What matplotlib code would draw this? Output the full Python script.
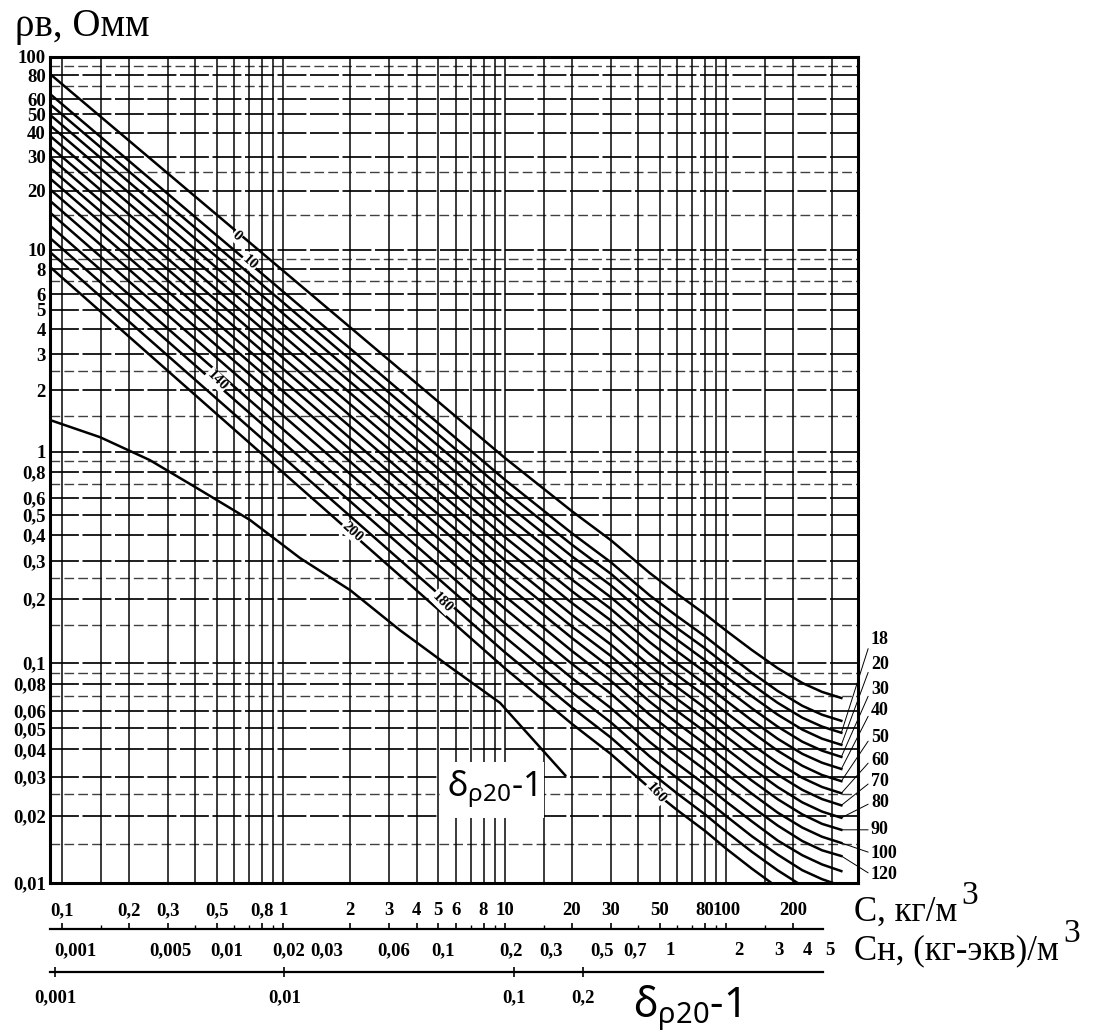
import numpy as np
import matplotlib
matplotlib.use("Agg")
import matplotlib.pyplot as plt

plt.rcParams["mathtext.fontset"] = "custom"
plt.rcParams["mathtext.rm"] = "Noto Sans"
plt.rcParams["mathtext.it"] = "Noto Sans"

SERIF = "Liberation Serif"

# concentration C, kg/m3, where the curves were read
c_pts = [0.0883, 10, 20, 30, 45, 60, 80, 100, 130, 170, 220, 270, 330]
# water resistivity, Ohm*m, one row per temperature curve (top to bottom)
rho_t0 = [81.3, 0.935, 0.520, 0.378, 0.264, 0.210, 0.169, 0.141, 0.115, 0.0947, 0.0808, 0.0735, 0.0689]
rho_t10 = [63.8, 0.734, 0.408, 0.297, 0.207, 0.165, 0.133, 0.111, 0.0903, 0.0743, 0.0634, 0.0577, 0.0541]
rho_t18 = [56.3, 0.647, 0.360, 0.262, 0.183, 0.145, 0.117, 0.0976, 0.0796, 0.0655, 0.0559, 0.0509, 0.0477]
rho_t20 = [49.6, 0.570, 0.317, 0.231, 0.161, 0.128, 0.103, 0.0860, 0.0702, 0.0578, 0.0493, 0.0448, 0.0420]
rho_t30 = [43.7, 0.502, 0.279, 0.203, 0.142, 0.113, 0.0908, 0.0757, 0.0618, 0.0509, 0.0434, 0.0395, 0.0370]
rho_t40 = [38.5, 0.442, 0.246, 0.179, 0.125, 0.0993, 0.0799, 0.0667, 0.0544, 0.0448, 0.0382, 0.0348, 0.0326]
rho_t50 = [33.9, 0.390, 0.217, 0.158, 0.110, 0.0876, 0.0705, 0.0588, 0.0480, 0.0395, 0.0337, 0.0306, 0.0287]
rho_t60 = [29.8, 0.343, 0.191, 0.139, 0.0969, 0.0771, 0.0620, 0.0517, 0.0422, 0.0348, 0.0297, 0.0270, 0.0253]
rho_t70 = [26.3, 0.303, 0.168, 0.122, 0.0855, 0.0680, 0.0548, 0.0457, 0.0373, 0.0307, 0.0262, 0.0238, 0.0223]
rho_t80 = [23.2, 0.266, 0.148, 0.108, 0.0752, 0.0599, 0.0482, 0.0402, 0.0328, 0.0270, 0.0230, 0.0209, 0.0196]
rho_t90 = [20.4, 0.235, 0.131, 0.0949, 0.0663, 0.0527, 0.0424, 0.0354, 0.0289, 0.0238, 0.0203, 0.0184, 0.0173]
rho_t100 = [17.8, 0.205, 0.114, 0.0828, 0.0578, 0.0460, 0.0370, 0.0309, 0.0252, 0.0207, 0.0177, 0.0161, 0.0151]
rho_t120 = [15.5, 0.179, 0.0993, 0.0722, 0.0504, 0.0401, 0.0323, 0.0269, 0.0220, 0.0181, 0.0154, 0.0140, 0.0132]
rho_t140 = [13.3, 0.153, 0.0853, 0.0620, 0.0433, 0.0344, 0.0277, 0.0231, 0.0189, 0.0155, 0.0133, 0.0121, 0.0113]
rho_t160 = [11.5, 0.132, 0.0733, 0.0533, 0.0372, 0.0296, 0.0238, 0.0199, 0.0162, 0.0134, 0.0114, 0.0104, 0.00971]
rho_t180 = [9.76, 0.112, 0.0624, 0.0454, 0.0317, 0.0252, 0.0203, 0.0169, 0.0138, 0.0114, 0.00970, 0.00882, 0.00827]
rho_t200 = [8.21, 0.0944, 0.0525, 0.0382, 0.0267, 0.0212, 0.0171, 0.0142, 0.0116, 0.00956, 0.00816, 0.00742, 0.00696]
curves = [rho_t0, rho_t10, rho_t18, rho_t20, rho_t30, rho_t40, rho_t50, rho_t60,
          rho_t70, rho_t80, rho_t90, rho_t100, rho_t120, rho_t140, rho_t160,
          rho_t180, rho_t200]

# separate lower curve (delta rho20 - 1)
c_delta = [0.0883, 0.1485, 0.249, 0.42, 0.706, 1.19, 2.0, 3.36, 5.65, 9.5, 18.7]
rho_delta = [1.43, 1.18, 0.914, 0.656, 0.471, 0.310, 0.219, 0.142, 0.0958, 0.0654, 0.0305]

# labels written along the lines
inline_txt = ["0", "10", "140", "200", "180", "160"]
inline_c = [0.617, 0.706, 0.501, 2.04, 5.2, 48]
inline_rho = [11.8, 8.69, 2.24, 0.413, 0.192, 0.0254]
inline_rot = [-42, -42, -45, -42, -45, -48]

# temperature labels at right end, and the curve each one points to
right_txt = ["18", "20", "30", "40", "50", "60", "70", "80", "90", "100", "120"]
right_rho = [0.128, 0.098, 0.075, 0.0601, 0.0456, 0.0358, 0.0285, 0.0229, 0.0173, 0.0136, 0.0109]
right_curve = [2, 3, 4, 5, 6, 7, 8, 9, 10, 11, 12]

# y axis
y_ticks = [100, 80, 60, 50, 40, 30, 20, 10, 8, 6, 5, 4, 3, 2, 1, 0.8, 0.6, 0.5, 0.4,
           0.3, 0.2, 0.1, 0.08, 0.06, 0.05, 0.04, 0.03, 0.02, 0.01]
y_labels = ["100", "80", "60", "50", "40", "30", "20", "10", "8", "6", "5", "4", "3", "2",
            "1", "0,8", "0,6", "0,5", "0,4", "0,3", "0,2", "0,1", "0,08", "0,06", "0,05",
            "0,04", "0,03", "0,02", "0,01"]
y_minor = [90, 70, 25, 15, 9, 7, 2.5, 1.5, 0.9, 0.7, 0.25, 0.15, 0.09, 0.07, 0.025, 0.015]

# bottom scales
c_ticks = [0.1, 0.2, 0.3, 0.5, 0.8, 1, 2, 3, 4, 5, 6, 8, 10, 20, 30, 50, 80, 100, 200]
c_labels = ["0,1", "0,2", "0,3", "0,5", "0,8", "1", "2", "3", "4", "5", "6", "8", "10",
            "20", "30", "50", "80", "100", "200"]
c_minor = [0.15, 0.4, 0.6, 0.7, 0.9, 7, 9, 15, 40, 60, 70, 90, 150, 300]
cn_ticks = [0.001, 0.005, 0.01, 0.02, 0.03, 0.06, 0.1, 0.2, 0.3, 0.5, 0.7, 1, 2, 3, 4, 5]
cn_labels = ["0,001", "0,005", "0,01", "0,02", "0,03", "0,06", "0,1", "0,2", "0,3", "0,5",
             "0,7", "1", "2", "3", "4", "5"]
d_ticks = [0.001, 0.01, 0.1, 0.2]
d_labels = ["0,001", "0,01", "0,1", "0,2"]

W, H = 1099, 1033
K = 0.0218  # the scanned log scale stretches slightly towards the bottom


def yfwd(v):
    L = np.log10(np.clip(v, 1e-9, None))
    return L - K * L * L


def yinv(f):
    return 10 ** ((1 - np.sqrt(np.clip(1 - 4 * K * f, 0, None))) / (2 * K))


def cn_fwd(v):
    return np.log10(np.clip(v + 0.0015, 1e-9, None))


def cn_inv(g):
    return 10 ** g - 0.0015


fig = plt.figure(figsize=(W / 100, H / 100), dpi=100)
left, width = 50 / W, 808 / W
ax = fig.add_axes([left, 1 - 883 / H, width, 826 / H])
ax.set_xscale("log")
ax.set_yscale("function", functions=(yfwd, yinv))
ax.set_xlim(0.08829, 392.4)
ax.set_ylim(0.01, 100)

# graph paper
for v in c_ticks + c_minor:
    ax.axvline(v, color="black", lw=1.2, alpha=0.9, zorder=1)
for v in y_ticks:
    ax.axhline(v, color="black", lw=1.3, alpha=0.95, zorder=1, dashes=(16, 2))
for v in y_minor:
    ax.axhline(v, color="black", lw=1.0, alpha=0.75, zorder=1, dashes=(7, 3))

for rho in curves:
    ax.plot(c_pts, rho, color="black", lw=1.8, zorder=3)
ax.plot(c_delta, rho_delta, color="black", lw=1.8, zorder=3)

for t, c, r, rot in zip(inline_txt, inline_c, inline_rho, inline_rot):
    ax.text(c, r, t, rotation=rot, ha="center", va="center", fontsize=11,
            family=SERIF, weight="bold", zorder=5,
            bbox=dict(boxstyle="square,pad=0.05", fc="white", ec="none"))

ax.text(8.73, 0.0262, r"$\mathrm{δ_{ρ20}}$-1", ha="center", va="center", fontsize=25,
        family="Noto Sans", zorder=6,
        bbox=dict(boxstyle="square,pad=0.2", fc="white", ec="none"))

ytr = ax.get_yaxis_transform()
for t, r, ci in zip(right_txt, right_rho, right_curve):
    ax.annotate(t, xy=(c_pts[-1], curves[ci][-1]), xycoords="data",
                xytext=(1.016, r), textcoords=ytr, ha="left", va="center",
                fontsize=13, family=SERIF, weight="bold", annotation_clip=False,
                arrowprops=dict(arrowstyle="-", lw=0.7, color="black",
                                shrinkA=0, shrinkB=0, relpos=(0, 0.5)))

ax.set_yticks(y_ticks, labels=y_labels, fontsize=13.5, family=SERIF, weight="bold")
ax.set_yticks([], minor=True)
ax.set_xticks([])
ax.set_xticks([], minor=True)
ax.tick_params(axis="y", length=0, pad=3)
for s in ax.spines.values():
    s.set_linewidth(2.2)

# C scale
axc = fig.add_axes([left, 1 - 929 / H, width, 1e-6])
axc.set_xscale("log")
axc.set_xlim(0.08829, 392.4)
axc.set_yticks([])
axc.patch.set_alpha(0)
for k in ["left", "right", "bottom"]:
    axc.spines[k].set_visible(False)
axc.spines["top"].set_bounds(0.08829, 272.8)
axc.spines["top"].set_linewidth(1.6)
axc.xaxis.set_ticks_position("top")
axc.set_xticks(c_ticks, labels=c_labels, fontsize=13.5, family=SERIF, weight="bold")
axc.set_xticks(c_minor[:-1], minor=True)
axc.tick_params(axis="x", which="major", direction="out", length=4, width=1.2, pad=3)
axc.tick_params(axis="x", which="minor", direction="out", length=3, width=1, labeltop=False)

# Cn scale (labels above the shared line)
axn = fig.add_axes([left, 1 - 972 / H, width, 1e-6])
axn.set_xscale("function", functions=(cn_fwd, cn_inv))
axn.set_xlim(0.000434, 6.63)
axn.set_yticks([])
axn.patch.set_alpha(0)
for s in axn.spines.values():
    s.set_visible(False)
axn.xaxis.set_ticks_position("top")
axn.set_xticks(cn_ticks, labels=cn_labels, fontsize=13.5, family=SERIF, weight="bold")
axn.set_xticks([], minor=True)
axn.tick_params(axis="x", length=0, pad=9)

# delta scale (labels below the shared line)
axd = fig.add_axes([left, 1 - 972 / H, width, 1e-6])
axd.set_xscale("log")
axd.set_xlim(0.000951, 3.155)
axd.set_yticks([])
axd.patch.set_alpha(0)
for k in ["left", "right", "top"]:
    axd.spines[k].set_visible(False)
axd.spines["bottom"].set_bounds(0.000951, 2.22)
axd.spines["bottom"].set_linewidth(1.6)
axd.set_xticks(d_ticks, labels=d_labels, fontsize=13.5, family=SERIF, weight="bold")
axd.set_xticks([], minor=True)
axd.tick_params(axis="x", direction="inout", length=7, width=1.2, pad=9)

# titles / axis names
fig.text(15 / W, 1 - 36 / H, "ρв, Омм", family=SERIF, fontsize=28, va="baseline")
tc = fig.text(854 / W, 1 - 921 / H, "С, кг/м", family=SERIF, fontsize=25, va="baseline")
ax.annotate("3", xy=(1, 1), xycoords=tc, xytext=(3, -11), textcoords="offset points",
            family=SERIF, fontsize=24, va="bottom", ha="left", annotation_clip=False)
tn = fig.text(854 / W, 1 - 959 / H, "Сн, (кг-экв)/м", family=SERIF, fontsize=25, va="baseline")
ax.annotate("3", xy=(1, 1), xycoords=tn, xytext=(3, -11), textcoords="offset points",
            family=SERIF, fontsize=24, va="bottom", ha="left", annotation_clip=False)
fig.text(687 / W, 1 - 1017 / H, r"$\mathrm{δ_{ρ20}}$-1", family="Noto Sans", fontsize=30,
         ha="center", va="baseline")

fig.savefig("out.png", dpi=100)
